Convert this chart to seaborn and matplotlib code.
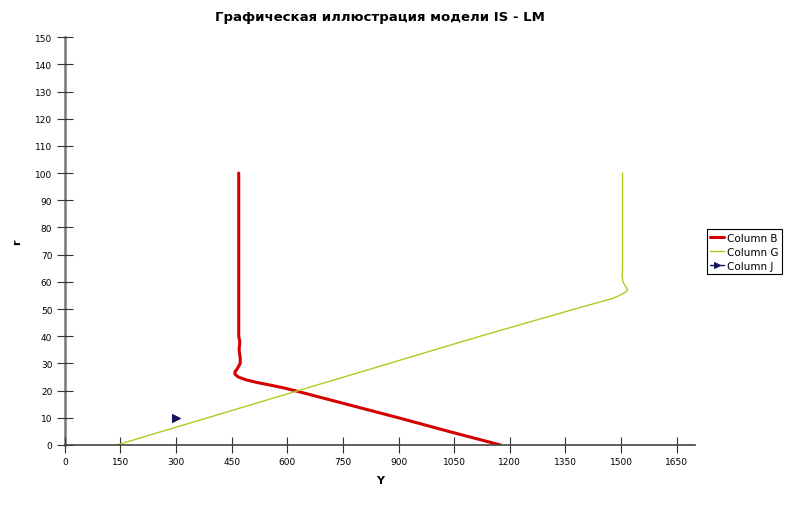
import numpy as np
import pandas as pd
import seaborn as sns
import matplotlib
matplotlib.use("Agg")
import matplotlib.pyplot as plt

# IS curve (Column B)
r_B = [0, 5, 10, 15, 20, 21, 22, 23, 24, 25, 26, 27, 28, 30, 32, 35, 38, 40, 50, 60, 70, 80, 90, 100]
Y_B = [1175, 1035, 900, 760, 620, 590, 555, 518, 488, 468, 459, 459, 465, 473, 473, 470, 472, 469,
       469, 469, 469, 469, 469, 469]
# LM curve (Column G)
r_G = [0, 10, 20, 30, 40, 50, 54, 56, 57, 58, 60, 62, 65, 70, 80, 90, 100]
Y_G = [140, 385, 630, 875, 1120, 1375, 1480, 1510, 1518, 1514, 1505, 1503, 1504, 1504, 1504, 1504, 1504]
# single point (Column J)
r_J = [10]
Y_J = [300]

xticks = list(range(0, 1651, 150))
yticks = list(range(0, 151, 10))

sns.set_style("white")
plt.rcParams['font.family'] = ['DejaVu Sans']
plt.rcParams['text.color'] = 'black'
plt.rcParams['axes.labelcolor'] = 'black'

fig = plt.figure(figsize=(8, 5.06), dpi=100)
ax = fig.add_axes([0.081, 0.1186, 0.788, 0.806])

sns.lineplot(x=Y_B, y=r_B, sort=False, estimator=None, color="#d40000", linewidth=2.2,
             label="Column B", ax=ax)
sns.lineplot(x=Y_G, y=r_G, sort=False, estimator=None, color="#b0cc22", linewidth=1.0,
             label="Column G", ax=ax)
sns.lineplot(x=Y_J, y=r_J, sort=False, estimator=None, color="#14145a", linewidth=1.0,
             marker=">", markersize=6, markeredgecolor="#14145a", label="Column J", ax=ax)

ax.set_xlim(0, 1700)
ax.set_ylim(0, 150)
ax.set_xticks(xticks)
ax.set_yticks(yticks)
ax.tick_params(axis="both", direction="inout", length=11, width=0.8, labelsize=6.5,
               colors="black", bottom=True, left=True)
ax.tick_params(axis="both", color="#333333")
for s in ["top", "right"]:
    ax.spines[s].set_visible(False)
ax.spines["left"].set_color("#777777")
ax.spines["left"].set_linewidth(1.8)
ax.spines["bottom"].set_color("#444444")
ax.spines["bottom"].set_linewidth(1.2)
ax.spines["left"].set_zorder(0.5)

ax.set_xlabel("Y", fontsize=8, fontweight="bold", labelpad=6)
ax.set_ylabel("r", fontsize=8, fontweight="bold", labelpad=9)
ax.set_title("Графическая иллюстрация модели IS - LM", fontsize=9.5, fontweight="bold", pad=12)

handles, labels = ax.get_legend_handles_labels()
leg = ax.legend(handles, labels, loc="center left", bbox_to_anchor=(1.018, 0.474), fontsize=7.5,
                frameon=True, fancybox=False, edgecolor="black", framealpha=1,
                handlelength=1.3, handletextpad=0.3, borderpad=0.35, labelspacing=0.4,
                borderaxespad=0, markerscale=0.8)
leg.get_frame().set_linewidth(0.8)

fig.savefig("out.png", dpi=100)
